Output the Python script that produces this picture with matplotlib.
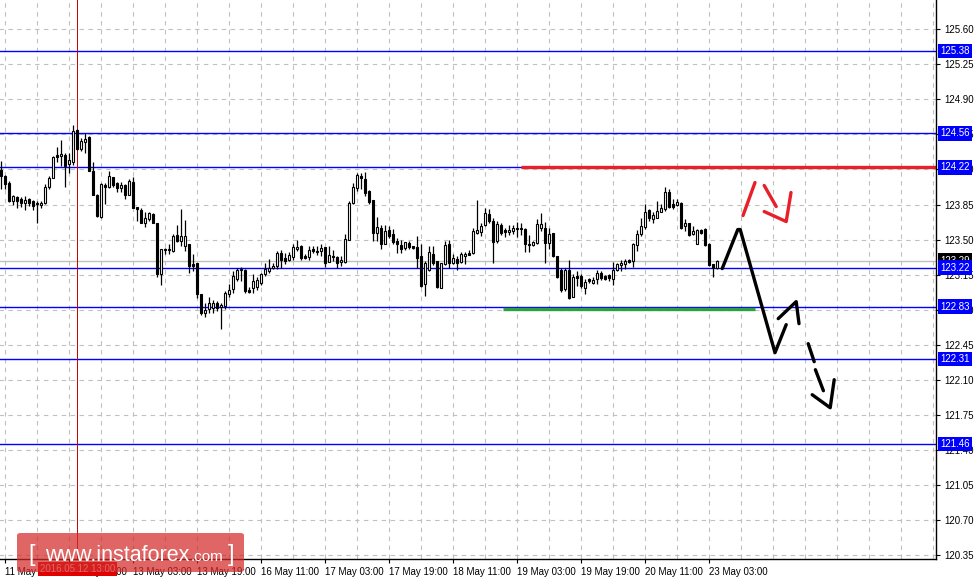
import matplotlib
matplotlib.use("Agg")
import matplotlib.pyplot as plt
import matplotlib.transforms as mtrans
from matplotlib.patches import FancyBboxPatch
import numpy as np

# USDJPY H1 candles, 11 May 18:00 .. 23 May
opens = [124.19, 124.13, 124.06, 123.89, 123.93, 123.91, 123.87, 123.91, 123.89, 123.86,
         123.85, 123.87, 124.03, 124.11, 124.34, 124.33, 124.34, 124.25, 124.27, 124.59,
         124.40, 124.47, 124.52, 124.18, 123.95, 123.73, 124.04, 124.03, 124.12, 124.06,
         124.02, 124.04, 123.95, 124.07, 123.83, 123.80, 123.67, 123.71, 123.76, 123.67,
         123.16, 123.40, 123.40, 123.39, 123.55, 123.49, 123.44, 123.46, 123.26, 123.27,
         122.96, 122.77, 122.81, 122.82, 122.87, 122.83, 122.84, 122.96, 123.01, 123.11,
         123.20, 123.20, 123.00, 123.02, 123.03, 123.07, 123.16, 123.19, 123.22, 123.24,
         123.37, 123.32, 123.30, 123.33, 123.41, 123.44, 123.34, 123.33, 123.41, 123.39,
         123.39, 123.43, 123.28, 123.34, 123.33, 123.28, 123.28, 123.50, 123.87, 124.02,
         124.13, 124.10, 123.99, 123.90, 123.57, 123.62, 123.46, 123.60, 123.56, 123.49,
         123.45, 123.42, 123.47, 123.44, 123.43, 123.34, 123.06, 123.20, 123.36, 123.29,
         123.02, 123.26, 123.46, 123.27, 123.31, 123.28, 123.34, 123.37, 123.37, 123.57,
         123.58, 123.65, 123.76, 123.69, 123.49, 123.65, 123.60, 123.58, 123.59, 123.62,
         123.62, 123.61, 123.46, 123.45, 123.47, 123.62, 123.62, 123.47, 123.57, 123.34,
         123.20, 123.01, 123.20, 122.93, 123.14, 123.14, 123.02, 123.11, 123.07, 123.11,
         123.17, 123.14, 123.15, 123.11, 123.20, 123.25, 123.26, 123.30, 123.29, 123.45,
         123.56, 123.63, 123.80, 123.71, 123.72, 123.78, 123.81, 123.98, 123.86, 123.85,
         123.87, 123.64, 123.67, 123.56, 123.46, 123.60, 123.61, 123.46, 123.26, 123.22]
highs = [124.28, 124.14, 124.08, 123.95, 123.94, 123.93, 123.94, 123.92, 123.90, 123.89,
         123.89, 124.05, 124.13, 124.33, 124.42, 124.49, 124.36, 124.36, 124.64, 124.60,
         124.51, 124.56, 124.53, 124.27, 123.96, 124.06, 124.06, 124.18, 124.12, 124.07,
         124.07, 124.05, 124.10, 124.12, 123.83, 123.82, 123.78, 123.78, 123.77, 123.67,
         123.41, 123.42, 123.46, 123.56, 123.65, 123.81, 123.70, 123.46, 123.36, 123.27,
         122.96, 122.87, 122.93, 122.90, 122.89, 122.87, 122.99, 123.06, 123.19, 123.22,
         123.23, 123.21, 123.03, 123.16, 123.13, 123.17, 123.27, 123.31, 123.27, 123.39,
         123.40, 123.37, 123.38, 123.46, 123.50, 123.45, 123.36, 123.44, 123.44, 123.44,
         123.46, 123.43, 123.44, 123.40, 123.34, 123.34, 123.56, 123.89, 124.06, 124.16,
         124.16, 124.17, 124.00, 123.90, 123.73, 123.65, 123.65, 123.64, 123.61, 123.52,
         123.50, 123.48, 123.49, 123.44, 123.54, 123.46, 123.29, 123.44, 123.44, 123.29,
         123.27, 123.49, 123.50, 123.36, 123.34, 123.38, 123.38, 123.40, 123.62, 123.90,
         123.67, 123.82, 123.81, 123.72, 123.69, 123.67, 123.62, 123.65, 123.65, 123.68,
         123.67, 123.62, 123.55, 123.49, 123.71, 123.77, 123.68, 123.62, 123.57, 123.34,
         123.22, 123.22, 123.30, 123.16, 123.19, 123.16, 123.11, 123.12, 123.13, 123.20,
         123.19, 123.15, 123.16, 123.28, 123.27, 123.30, 123.31, 123.31, 123.47, 123.60,
         123.72, 123.86, 123.81, 123.78, 123.89, 123.86, 124.03, 124.01, 123.91, 123.91,
         123.88, 123.71, 123.67, 123.64, 123.61, 123.61, 123.62, 123.47, 123.26, 123.30]
lows = [124.01, 124.01, 123.88, 123.85, 123.82, 123.83, 123.80, 123.84, 123.80, 123.67,
        123.82, 123.86, 124.01, 124.11, 124.27, 124.23, 124.03, 124.16, 124.24, 124.39,
        124.38, 124.36, 124.18, 123.95, 123.73, 123.72, 123.86, 124.02, 124.03, 123.98,
        123.98, 123.91, 123.95, 123.82, 123.69, 123.67, 123.63, 123.69, 123.67, 123.13,
        123.05, 123.36, 123.36, 123.38, 123.48, 123.44, 123.39, 123.17, 123.19, 122.92,
        122.75, 122.73, 122.77, 122.77, 122.79, 122.61, 122.81, 122.93, 122.97, 123.09,
        123.09, 122.97, 122.97, 122.97, 123.00, 123.05, 123.14, 123.17, 123.21, 123.21,
        123.22, 123.26, 123.29, 123.30, 123.39, 123.30, 123.31, 123.30, 123.37, 123.35,
        123.34, 123.23, 123.28, 123.29, 123.22, 123.24, 123.27, 123.50, 123.86, 123.99,
        124.01, 123.94, 123.86, 123.49, 123.49, 123.41, 123.46, 123.52, 123.46, 123.37,
        123.37, 123.40, 123.41, 123.41, 123.22, 123.03, 122.94, 123.19, 123.25, 123.02,
        123.02, 123.25, 123.22, 123.26, 123.20, 123.27, 123.26, 123.35, 123.36, 123.56,
        123.54, 123.64, 123.67, 123.27, 123.47, 123.55, 123.53, 123.55, 123.56, 123.53,
        123.55, 123.38, 123.38, 123.44, 123.46, 123.59, 123.27, 123.41, 123.33, 123.12,
        122.98, 122.99, 122.91, 122.93, 123.04, 123.02, 122.96, 123.07, 123.06, 123.06,
        123.10, 123.10, 123.09, 123.05, 123.19, 123.19, 123.21, 123.27, 123.23, 123.39,
        123.54, 123.61, 123.69, 123.67, 123.72, 123.78, 123.79, 123.82, 123.81, 123.84,
        123.61, 123.59, 123.54, 123.55, 123.46, 123.56, 123.44, 123.24, 123.13, 123.21]
closes = [124.13, 124.05, 123.89, 123.94, 123.89, 123.87, 123.90, 123.87, 123.84, 123.86,
          123.87, 124.03, 124.11, 124.32, 124.32, 124.35, 124.23, 124.29, 124.58, 124.40,
          124.48, 124.50, 124.18, 123.95, 123.74, 124.05, 124.03, 124.13, 124.04, 124.02,
          124.04, 123.95, 124.08, 123.82, 123.81, 123.67, 123.72, 123.77, 123.67, 123.16,
          123.41, 123.41, 123.40, 123.54, 123.49, 123.54, 123.54, 123.24, 123.24, 122.96,
          122.77, 122.80, 122.87, 122.87, 122.82, 122.85, 122.97, 123.00, 123.14, 123.20,
          123.21, 122.99, 122.98, 123.09, 123.10, 123.16, 123.21, 123.22, 123.24, 123.37,
          123.30, 123.29, 123.35, 123.43, 123.43, 123.32, 123.32, 123.40, 123.39, 123.38,
          123.42, 123.27, 123.35, 123.33, 123.27, 123.30, 123.51, 123.87, 124.03, 124.14,
          124.11, 123.97, 123.88, 123.57, 123.63, 123.46, 123.59, 123.54, 123.48, 123.46,
          123.41, 123.48, 123.43, 123.42, 123.32, 123.04, 123.27, 123.38, 123.27, 123.03,
          123.27, 123.45, 123.27, 123.32, 123.27, 123.36, 123.36, 123.35, 123.59, 123.60,
          123.64, 123.77, 123.69, 123.48, 123.66, 123.57, 123.58, 123.60, 123.62, 123.61,
          123.61, 123.46, 123.45, 123.48, 123.66, 123.66, 123.47, 123.56, 123.34, 123.13,
          123.00, 123.20, 122.92, 123.13, 123.12, 123.04, 123.08, 123.09, 123.10, 123.17,
          123.12, 123.11, 123.12, 123.20, 123.26, 123.27, 123.29, 123.28, 123.46, 123.56,
          123.64, 123.78, 123.72, 123.75, 123.79, 123.82, 123.98, 123.83, 123.83, 123.88,
          123.62, 123.67, 123.55, 123.59, 123.60, 123.57, 123.45, 123.25, 123.22, 123.29]

time_labels = ["11 May 19:00", "12 May 11:00", "13 May 03:00", "13 May 19:00",
               "16 May 11:00", "17 May 03:00", "17 May 19:00", "18 May 11:00",
               "19 May 03:00", "19 May 19:00", "20 May 11:00", "23 May 03:00"]
price_ticks = [120.35, 120.70, 121.05, 121.40, 121.75, 122.10, 122.45, 122.80,
               123.15, 123.50, 123.85, 124.20, 124.55, 124.90, 125.25, 125.60]
levels = [125.38, 124.56, 124.22, 123.22, 122.83, 122.31, 121.46]
bid = 123.29
resistance = 124.22
support = 122.81

# hand drawn forecast strokes (bar index, price)
black_strokes = [
    ([180.3, 184.2, 184.8, 193.5, 196.3], [123.21, 123.60, 123.60, 122.37, 122.65]),
    ([194.3, 198.8, 199.5], [122.71, 122.88, 122.66]),
    ([201.8, 203.3], [122.46, 122.28]),
    ([203.6, 205.6], [122.20, 121.99]),
    ([202.8, 207.3, 208.3], [121.95, 121.82, 122.10]),
]
red_strokes = [
    ([185.5, 188.5], [123.74, 124.07]),
    ([190.8, 193.8], [124.04, 123.83]),
    ([190.8, 196.3, 197.5], [123.78, 123.68, 123.97]),
]

plt.rcParams['font.family'] = ['Liberation Sans', 'DejaVu Sans']

W, H = 978, 584
fig = plt.figure(figsize=(W / 100, H / 100), dpi=100)
ax = fig.add_axes([0, 25 / H, 936 / W, 559 / H])

n = len(closes)
idx = np.arange(n)
o = np.array(opens)
c = np.array(closes)

grid_kw = dict(color='#c0c0c0', lw=0.8, linestyle=(0, (4, 4)), zorder=0)
ax.hlines(price_ticks, -1, 240, **grid_kw)
ax.vlines(np.arange(1, 234, 8), 119, 127, **grid_kw)

# levels
ax.axhline(bid, color='#c0c0c0', lw=1, zorder=1)
for lv in levels:
    ax.axhline(lv, color='#0000ff', lw=1, zorder=1)
ax.plot([130, 240], [resistance, resistance], color='#e8202a', lw=2.4, zorder=2,
        solid_capstyle='butt')
ax.plot([125.5, 188.5], [support, support], color='#2ea043', lw=2.4, zorder=2,
        solid_capstyle='butt')

# crosshair
ax.axvline(19, color='#c00000', lw=0.7, zorder=1)

# candles
ax.vlines(idx, lows, highs, color='black', lw=0.9, zorder=3)
body_h = np.maximum(np.abs(c - o), 0.008)
fills = np.where(c >= o, 'white', 'black')
ax.bar(idx, body_h, bottom=np.minimum(o, c), width=0.55, color=fills,
       edgecolor='black', linewidth=0.8, zorder=4)

for xs, ys in black_strokes:
    ax.plot(xs, ys, color='black', lw=2.4, solid_capstyle='round',
            solid_joinstyle='round', zorder=5)
for xs, ys in red_strokes:
    ax.plot(xs, ys, color='#e8202a', lw=2.4, solid_capstyle='round',
            solid_joinstyle='round', zorder=5)

ax.set_xlim(-0.25, 233.75)
ax.set_ylim(120.309, 125.893)

ax.set_xticks(np.arange(1, n, 16), time_labels)
for lab in ax.get_xticklabels():
    lab.set_horizontalalignment('left')
ax.yaxis.tick_right()
ax.set_yticks(price_ticks, [f"{p:.2f}" for p in price_ticks])
ax.tick_params(axis='both', direction='out', length=3, width=0.8,
               labelsize=7, colors='black')
ax.tick_params(axis='x', pad=3)
ax.tick_params(axis='y', pad=3)
for s in ['top', 'left']:
    ax.spines[s].set_visible(False)
for s in ['right', 'bottom']:
    ax.spines[s].set_color('black')
    ax.spines[s].set_linewidth(1)

trans = mtrans.blended_transform_factory(ax.transAxes, ax.transData)
ax.text(1.0045, bid, f"{bid:.2f}", transform=trans, ha='left', va='center',
        fontsize=7, color='white', clip_on=False, zorder=6,
        bbox=dict(boxstyle='square,pad=0.22', fc='black', ec='none'))
for lv in levels:
    ax.text(1.0045, lv, f"{lv:.2f}", transform=trans, ha='left', va='center',
            fontsize=7, color='white', clip_on=False, zorder=7,
            bbox=dict(boxstyle='square,pad=0.22', fc='#0000ff', ec='none'))

# crosshair date label
fig.text(40 / W, 1 - 569 / H, "2016.05.12 13:00", fontsize=7, color='white',
         ha='left', va='center', zorder=4,
         bbox=dict(boxstyle='square,pad=0.2', fc='#e00000', ec='none'))

# watermark
wm = FancyBboxPatch((17 / W, 1 - 572 / H), 227 / W, 39 / H,
                    boxstyle='round,pad=0,rounding_size=0.004',
                    transform=fig.transFigure, fc='#d42a2a', ec='none',
                    alpha=0.72, zorder=10)
fig.add_artist(wm)
fig.text(28 / W, 1 - 561 / H, "[", fontsize=17, color='white', zorder=11,
         ha='left', va='baseline')
fig.text(45 / W, 1 - 561 / H, "www.instaforex", fontsize=15.5, color='white',
         zorder=11, ha='left', va='baseline')
fig.text(191 / W, 1 - 561 / H, ".com", fontsize=11, color='white', zorder=11,
         ha='left', va='baseline')
fig.text(228 / W, 1 - 561 / H, "]", fontsize=17, color='white', zorder=11,
         ha='left', va='baseline')

fig.savefig("out.png", dpi=100)
